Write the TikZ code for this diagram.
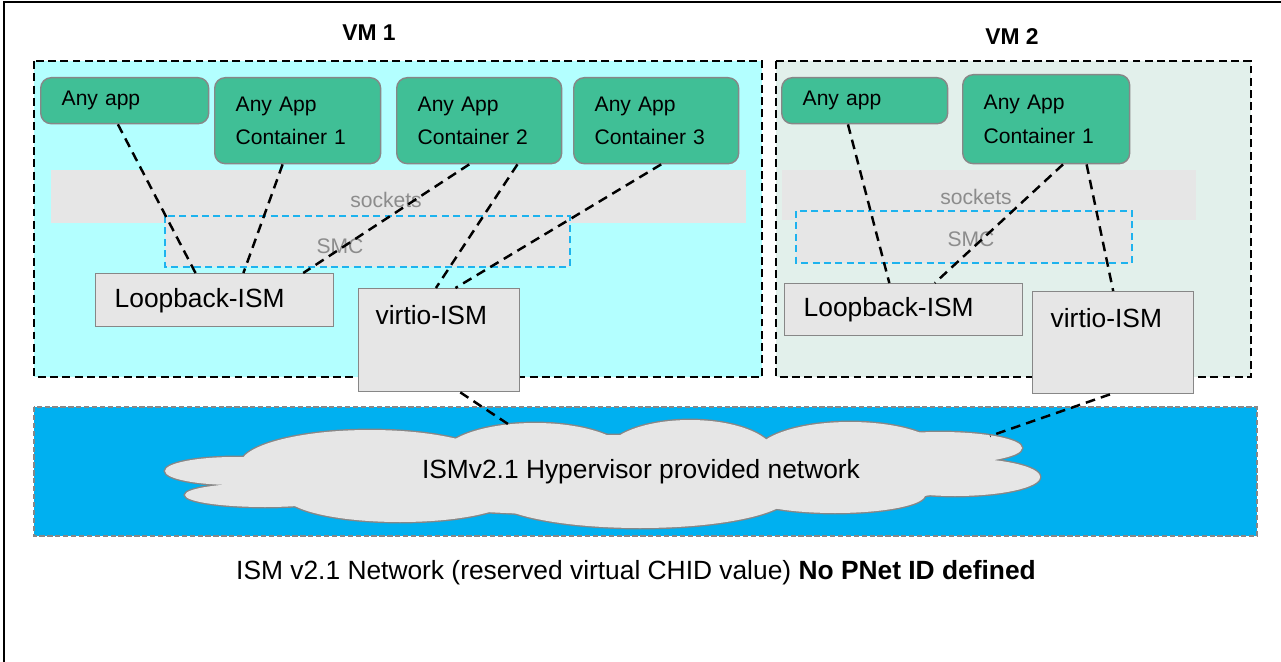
\documentclass[tikz,border=0pt]{standalone}
\usepackage{fontspec}
\setmainfont{Liberation Sans}
\usetikzlibrary{calc}
\definecolor{AppGreen}{HTML}{40BF96}
\definecolor{VmCyan}{HTML}{B3FFFF}
\definecolor{VmMint}{HTML}{E2F0EB}
\definecolor{BoxGray}{HTML}{E6E6E6}
\definecolor{EdgeGray}{HTML}{878787}
\definecolor{TextGray}{HTML}{8C8C8C}
\definecolor{NetBlue}{HTML}{00B0F0}
\definecolor{SmcBlue}{HTML}{1DB3EE}

\begin{document}
\begin{tikzpicture}[x=0.02cm, y=-0.02cm,
		vmbox/.style={draw=black, line width=0.8pt, dash pattern=on 4.5pt off 2.5pt},
		appbox/.style={draw=EdgeGray, fill=AppGreen, line width=0.8pt, rounded corners=6pt, anchor=north west, align=left, inner xsep=0.42cm, inner ysep=0pt, font=\fontsize{12}{19}\selectfont},
		ismbox/.style={draw=EdgeGray, fill=BoxGray, line width=0.8pt, anchor=north west, align=left, inner ysep=0pt, font=\fontsize{15}{18}\selectfont},
		graytext/.style={text=TextGray, font=\fontsize{12}{14}\selectfont},
		link/.style={draw=black, line width=1.4pt, dash pattern=on 5.5pt off 3.5pt}]
	\useasboundingbox (0,0) rectangle (1281,662);
	
	\draw[line width=1.2pt] (4,662) -- (4,2) -- (1281,2);
	
	% the two VMs
	\filldraw[vmbox, fill=VmCyan] (34,61) rectangle (762,377);
	\filldraw[vmbox, fill=VmMint] (776,61) rectangle (1251,377);
	\node[font=\bfseries\fontsize{13}{15}\selectfont] (vm1) at (369,33) {VM 1};
	\node[font=\bfseries\fontsize{13}{15}\selectfont] (vm2) at (1012,37) {VM 2};
	
	\fill[BoxGray] (51,170) rectangle (746,223);
	\fill[BoxGray] (782,170) rectangle (1196,220);
	\filldraw[fill=BoxGray, draw=SmcBlue, line width=0.8pt, dash pattern=on 4pt off 2.5pt] (165,216) rectangle (570,267);
	\filldraw[fill=BoxGray, draw=SmcBlue, line width=0.8pt, dash pattern=on 4pt off 2.5pt] (796,211) rectangle (1132,263);
	\node[graytext] (sock1) at (386,200) {sockets};
	\node[graytext] (sock2) at (976,197) {sockets};
	\node[graytext] (smc1) at (340,246) {SMC};
	\node[graytext] (smc2) at (971,239) {SMC};
	
	% apps
	\node[appbox, text width=2.52cm, minimum height=0.92cm] (any1) at (40,77) {Any app};
	\node[appbox, text width=2.48cm, minimum height=1.72cm] (cont1) at (214,77) {Any App\\Container 1};
	\node[appbox, text width=2.46cm, minimum height=1.72cm] (cont2) at (396,77) {Any App\\Container 2};
	\node[appbox, text width=2.46cm, minimum height=1.72cm] (cont3) at (573,77) {Any App\\Container 3};
	\node[appbox, text width=2.48cm, minimum height=0.92cm] (any2) at (781,77) {Any app};
	\node[appbox, text width=2.50cm, minimum height=1.78cm] (cont4) at (962,74) {Any App\\Container 1};
	
	% ISM devices
	\node[ismbox, inner xsep=0.38cm, text width=4.0cm, minimum height=1.06cm] (loop1) at (95,273) {Loopback-ISM};
	\node[ismbox, inner xsep=0.38cm, text width=4.0cm, minimum height=1.04cm] (loop2) at (784,283) {Loopback-ISM};
	\node[ismbox, inner xsep=0.34cm, text width=2.54cm, text height=0.72cm, text depth=1.34cm] (vio1) at (358,288) {virtio-ISM};
	\node[ismbox, inner xsep=0.36cm, text width=2.50cm, text height=0.72cm, text depth=1.32cm] (vio2) at (1032,291) {virtio-ISM};
	
	\draw[link] ($(any1.south west)!.46!(any1.south east)$) -- ($(loop1.north west)!.42!(loop1.north east)$);
	\draw[link] ($(cont1.south west)!.41!(cont1.south east)$) -- ($(loop1.north west)!.62!(loop1.north east)$);
	\draw[link] ($(cont2.south west)!.44!(cont2.south east)$) -- ($(loop1.north west)!.87!(loop1.north east)$);
	\draw[link] ($(cont2.south west)!.73!(cont2.south east)$) -- ($(vio1.north west)!.48!(vio1.north east)$);
	\draw[link] ($(cont3.south west)!.53!(cont3.south east)$) -- ($(vio1.north west)!.60!(vio1.north east)$);
	
	\draw[link] ($(any2.south west)!.40!(any2.south east)$) -- ($(loop2.north west)!.44!(loop2.north east)$);
	\draw[link] ($(cont4.south west)!.60!(cont4.south east)$) -- ($(loop2.north west)!.63!(loop2.north east)$);
	\draw[link] ($(cont4.south west)!.74!(cont4.south east)$) -- ($(vio2.north west)!.50!(vio2.north east)$);
	
	% network and its cloud
	\filldraw[fill=NetBlue, draw=EdgeGray, line width=0.6pt, dash pattern=on 3pt off 1.5pt] (34,407) rectangle (1257,536);
	\def\puffs{235/471/70/14, 265/495/80/12, 370/465/130/35, 535/458/95/35, 690/455/85/35, 850/455/95/33,
		940/448/82/16, 955/477/85/19, 880/470/90/30, 835/495/90/18, 640/495/150/33, 400/495/115/27, 600/475/300/40}
	\foreach \cx/\cy/\rx/\ry in \puffs
		\draw[EdgeGray, line width=1.6pt] (\cx,\cy) ellipse [x radius=\rx, y radius=\ry];
	\foreach \cx/\cy/\rx/\ry in \puffs
		\fill[BoxGray] (\cx,\cy) ellipse [x radius=\rx, y radius=\ry];
	\node[font=\fontsize{15}{18}\selectfont] (net) at (641,472) {ISMv2.1 Hypervisor provided network};
	\coordinate (netA) at (508,424);
	\coordinate (netB) at (990,436);
	
	\draw[link] ($(vio1.south west)!.63!(vio1.south east)$) -- (netA);
	\draw[link] ($(vio2.south west)!.48!(vio2.south east)$) -- (netB);
	
	\node[font=\fontsize{15}{18}\selectfont] (caption) at (636,573) {ISM v2.1 Network (reserved virtual CHID value) \textbf{No PNet ID defined}};
\end{tikzpicture}
\end{document}
